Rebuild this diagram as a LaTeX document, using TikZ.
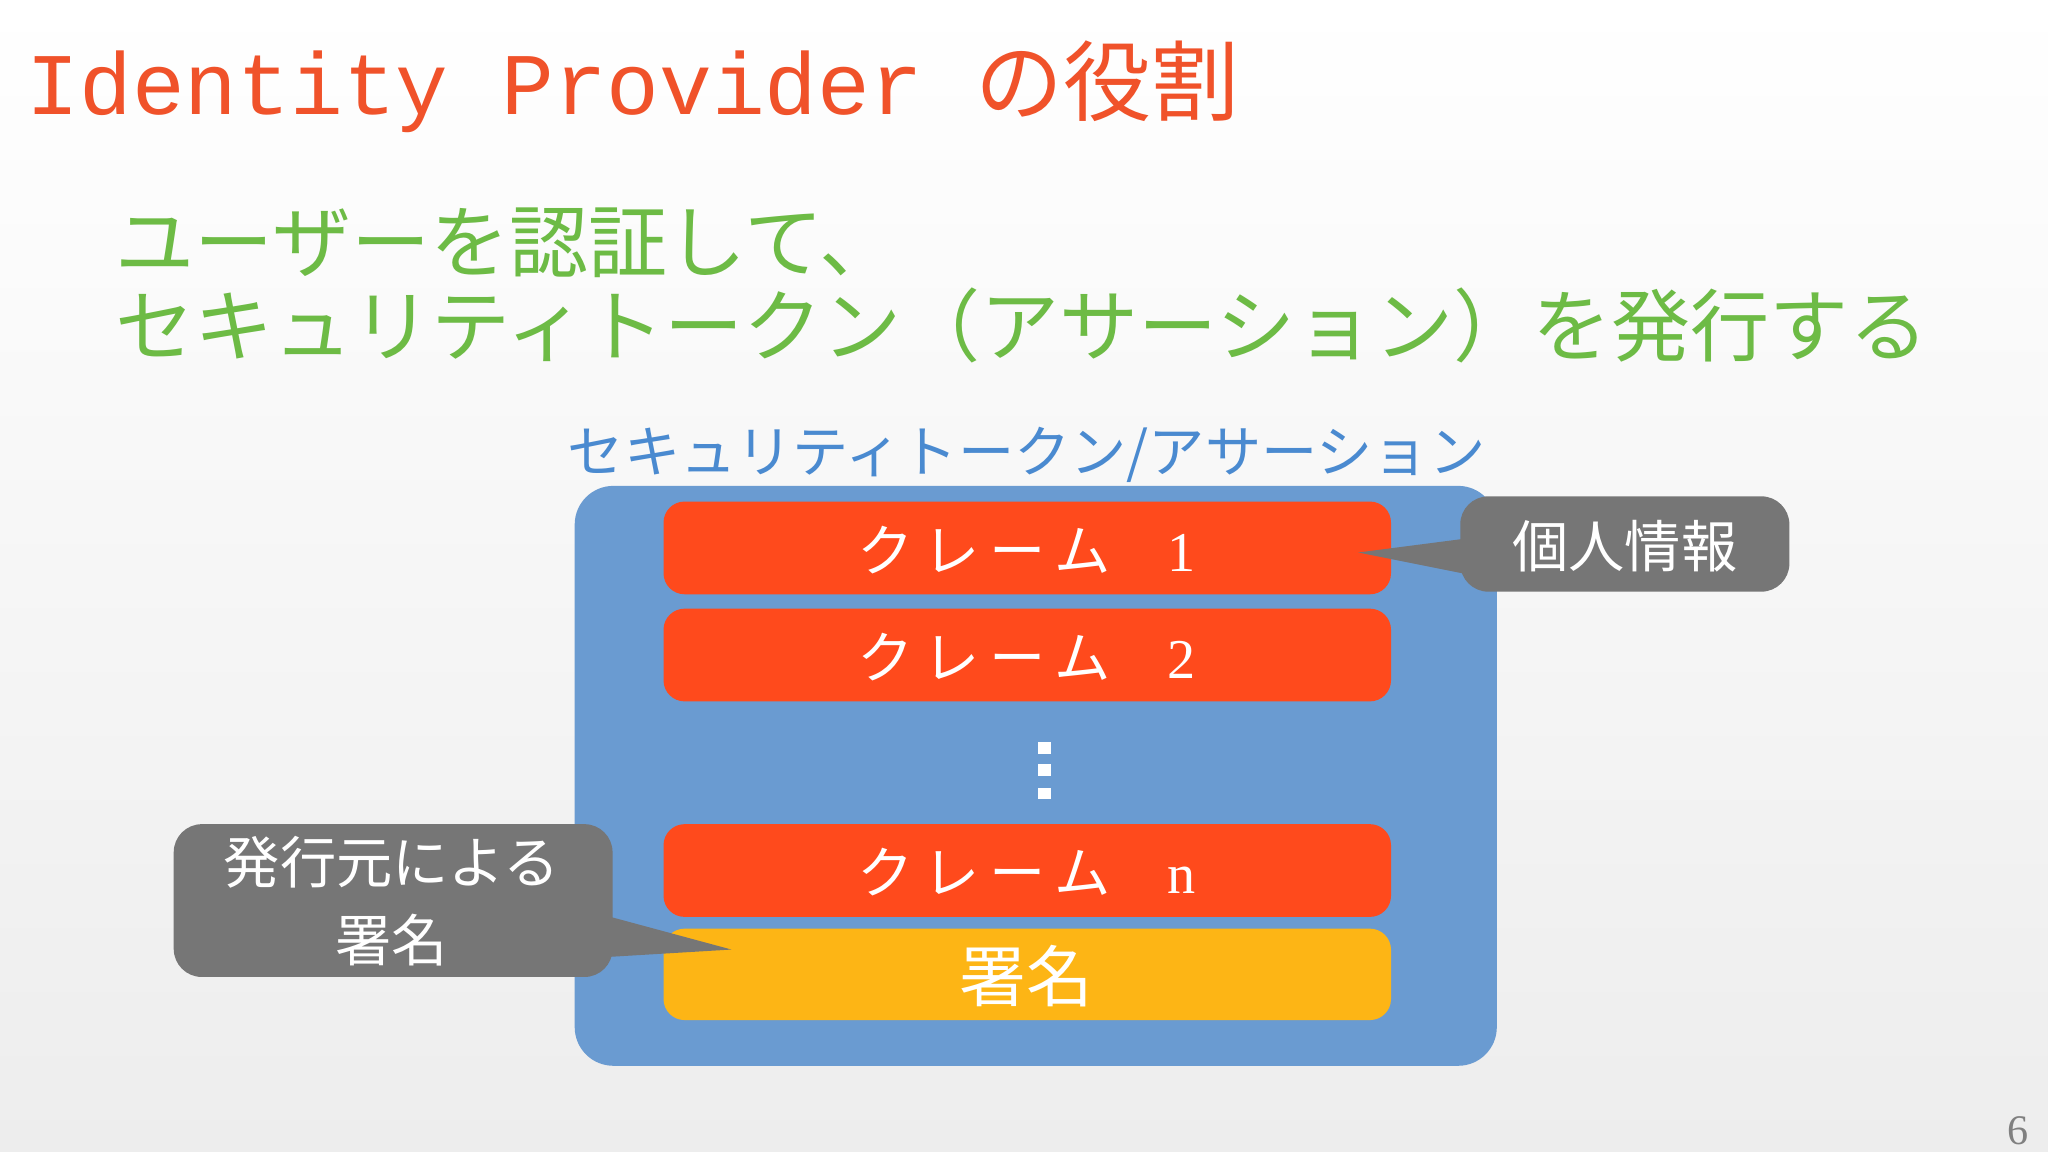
\documentclass[tikz,border=0pt]{standalone}
\usepackage{fontspec}
\newfontfamily\cjk{Noto Sans CJK JP}
\setmainfont{Liberation Serif}
\newfontfamily\titlemono{Liberation Mono}
\definecolor{bgA}{HTML}{FFFFFF}
\definecolor{bgB}{HTML}{EDEDED}
\definecolor{ttl}{HTML}{F0522A}
\definecolor{grn}{HTML}{6DBB45}
\definecolor{blu}{HTML}{6A9BD1}
\definecolor{lbl}{HTML}{4A8AD0}
\definecolor{redc}{HTML}{FF4A1C}
\definecolor{yel}{HTML}{FDB515}
\definecolor{gry}{HTML}{767676}
\tikzset{
  claim/.style={fill=redc,rounded corners=6pt},
  callout/.style={fill=gry,rounded corners=8pt},
  wtext/.style={text=white,font=\cjk\fontsize{16}{18}\selectfont},
}
\begin{document}
\begin{tikzpicture}[x=0.013061cm,y=-0.013061cm]
\useasboundingbox (0,0) rectangle (1568,882);
\shade[top color=bgA,bottom color=bgB] (0,0) rectangle (1568,882);
\node[anchor=base west,text=ttl,inner sep=0] (title) at (20,88)
  {\titlemono\fontsize{25}{27}\selectfont Identity Provider \cjk の役割};
\node[anchor=base west,text=grn,inner sep=0,align=left] (sub) at (88,208)
  {\cjk\fontsize{22.5}{24}\selectfont ユーザーを認証して、};
\node[anchor=base west,text=grn,inner sep=0] (sub2) at (88,272)
  {\cjk\fontsize{22.5}{24}\selectfont セキュリティトークン（アサーション）を発行する};
\node[text=lbl,inner sep=0] (lab) at (786,348)
  {\cjk\fontsize{16}{18}\selectfont セキュリティトークン/アサーション};
\fill[blu,rounded corners=11pt] (440,372) rectangle (1146,816);
\fill[claim] (508,384) rectangle (1065,455);
\node[wtext] (c1) at (786,421) {ク\,レ\,ー\,ム\quad\fontspec{Liberation Serif}1};
\fill[claim] (508,466) rectangle (1065,537);
\node[wtext] (c2) at (786,503) {ク\,レ\,ー\,ム\quad\fontspec{Liberation Serif}2};
\foreach \y in {568,585,603} \fill[white] (795,\y) rectangle (805,\y+9);
\fill[claim] (508,631) rectangle (1065,702);
\node[wtext] (cn) at (786,668) {ク\,レ\,ー\,ム\quad\fontspec{Liberation Serif}n};
\fill[yel,rounded corners=6pt] (508,711) rectangle (1065,781);
\node[wtext,font=\cjk\fontsize{19}{22}\selectfont] (sig) at (786,747) {署名};
\fill[callout] (1118,380) rectangle (1370,453);
\fill[gry] (1125,412) -- (1040,423) -- (1125,440) -- cycle;
\node[wtext,font=\cjk\fontsize{16}{18}\selectfont] (pi) at (1244,418) {個人情報};
\fill[callout] (133,631) rectangle (469,748);
\fill[gry] (460,700) -- (560,727) -- (460,733) -- cycle;
\node[wtext,font=\cjk\fontsize{16}{22}\selectfont,align=center] (iss) at (300,690) {発行元による\\署名};
\node[text=gray,inner sep=0,font=\fontsize{12}{14}\selectfont] (pg) at (1545,866) {6};
\end{tikzpicture}
\end{document}
